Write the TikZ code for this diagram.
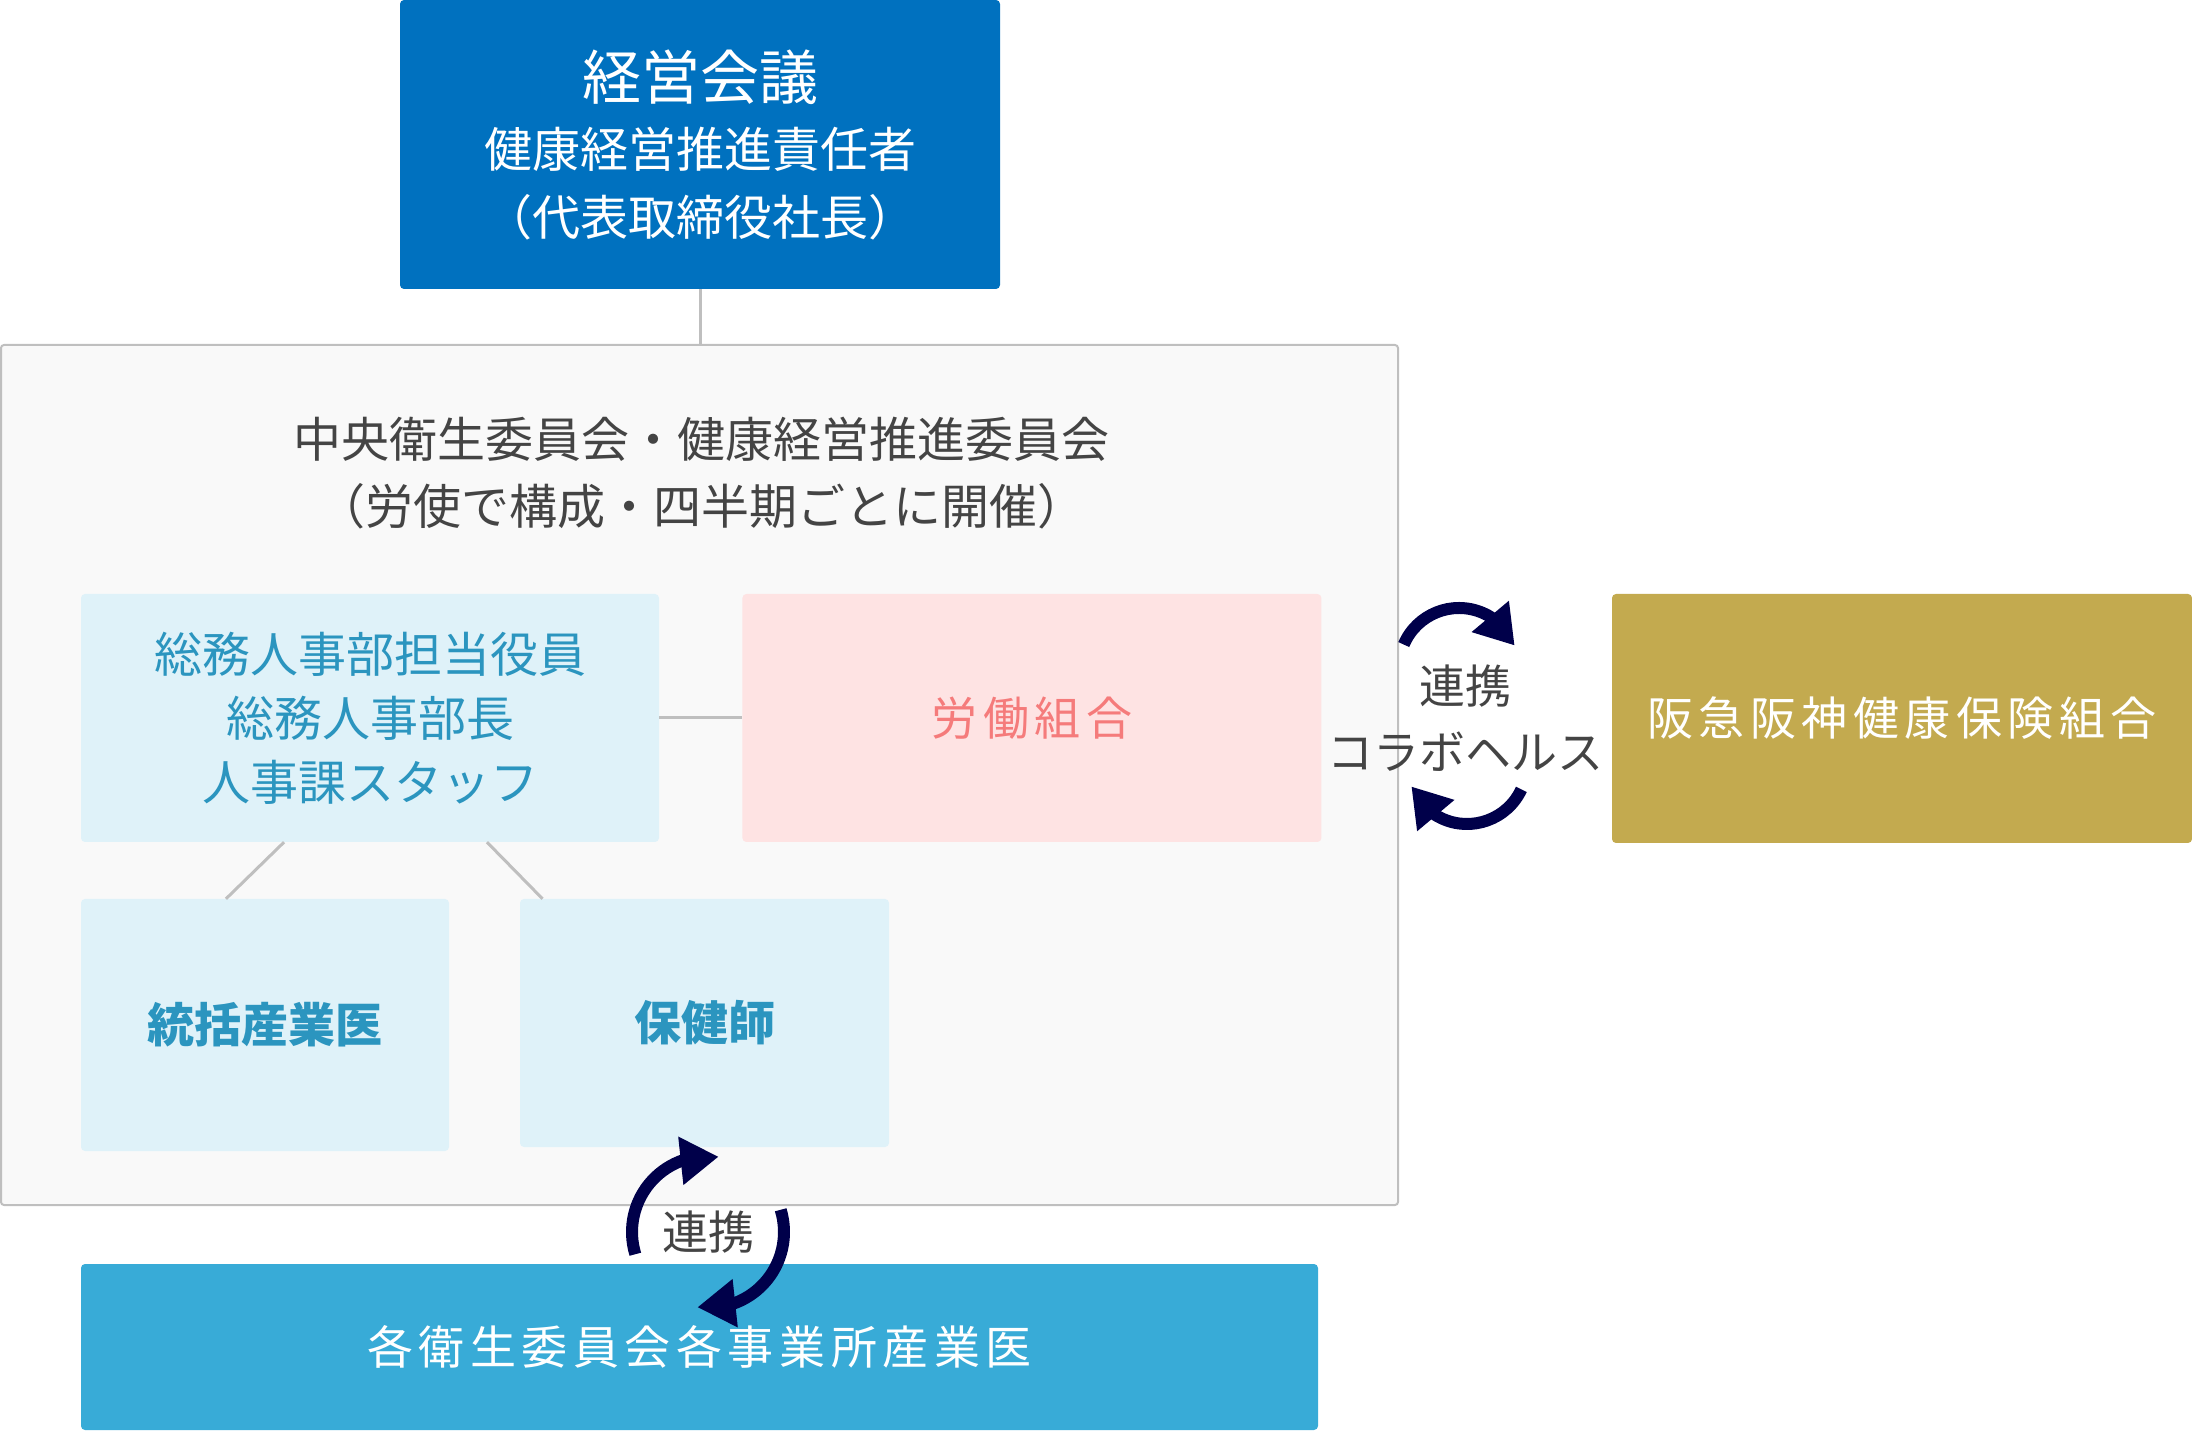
\documentclass[tikz,border=0pt]{standalone}
\usepackage{fontspec}
\setmainfont{Noto Sans CJK JP}
\newfontfamily\jpwide[LetterSpace=12]{Noto Sans CJK JP}
\usetikzlibrary{arrows.meta, bending, positioning, calc}
\definecolor{hqBlue}{HTML}{0071BF}
\definecolor{siteBlue}{HTML}{38ABD7}
\definecolor{kenpoGold}{HTML}{C3AA4F}
\definecolor{paleBlue}{HTML}{DFF2F9}
\definecolor{palePink}{HTML}{FEE3E3}
\definecolor{unionRed}{HTML}{F57B7B}
\definecolor{staffBlue}{HTML}{2B95BF}
\definecolor{cycleNavy}{HTML}{00004A}
\definecolor{lineGray}{HTML}{BFBFBF}
\definecolor{textGray}{HTML}{444444}

\begin{document}
\begin{tikzpicture}[x=1pt, y=1pt,
    orgbox/.style={rectangle, rounded corners=4pt, inner sep=0pt, align=center},
    solidbox/.style={orgbox, text=white},
    staffbox/.style={orgbox, fill=paleBlue, text=staffBlue,
                     font=\fontsize{48}{64}\selectfont},
    link/.style={draw=lineGray, line width=3pt},
    cyclearrow/.style={draw=cycleNavy, line width=12pt,
                       -{Triangle[width=46pt, length=38pt, flex]}},
  ]
    \useasboundingbox (0,0) rectangle (2192,1433);

    % committee frame
    \node[orgbox, rounded corners=3pt, draw=lineGray, line width=2pt, fill=black!2.5,
          minimum width=1397pt, minimum height=860pt] (iinkai) at (699.5,658) {};
    \node[align=center, text=textGray, font=\fontsize{48}{67}\selectfont]
          (iinkaiTitle) at (701,960)
          {中央衛生委員会・健康経営推進委員会\\（労使で構成・四半期ごとに開催）};

    % management
    \node[solidbox, fill=hqBlue, minimum width=600pt, minimum height=289pt,
          font=\fontsize{48}{68}\selectfont] (keiei) at (700,1288.5)
          {{\fontsize{59}{70}\selectfont 経営会議}\\健康経営推進責任者\\（代表取締役社長）};

    % members
    \node[staffbox, minimum width=578pt, minimum height=248pt] (somu) at (370,715)
          {総務人事部担当役員\\総務人事部長\\人事課スタッフ};
    \node[orgbox, fill=palePink, text=unionRed, minimum width=579pt, minimum height=248pt,
          font=\jpwide\fontsize{46}{60}\selectfont, right=83pt of somu] (kumiai) {労働組合};
    \node[staffbox, minimum width=368pt, minimum height=252pt,
          font=\bfseries\fontsize{47}{60}\selectfont] (sangyoui) at (265,408) {統括産業医};
    \node[staffbox, minimum width=369pt, minimum height=248pt,
          font=\bfseries\fontsize{47}{60}\selectfont] (hokenshi) at (704.5,410) {保健師};

    % outside
    \node[solidbox, fill=siteBlue, minimum width=1237pt, minimum height=166pt,
          font=\jpwide\fontsize{46}{60}\selectfont] (jigyosho) at (699.5,86)
          {各衛生委員会各事業所産業医};
    \node[solidbox, fill=kenpoGold, minimum width=580pt, minimum height=249pt,
          font=\jpwide\fontsize{46}{60}\selectfont] (kenpo) at (1902,714.5)
          {阪急阪神健康保険組合};

    % connectors
    \draw[link] (keiei.south) -- (keiei.south |- iinkai.north);
    \draw[link] (somu.east) -- (kumiai.west);
    \draw[link] ([xshift=-86pt]somu.south) -- ([xshift=-39pt]sangyoui.north);
    \draw[link] ([xshift=117pt]somu.south) -- ([xshift=-162pt]hokenshi.north);

    % collaboration labels and cycles
    \node[align=center, text=textGray, font=\fontsize{46}{66}\selectfont]
          (renkeiR) at (1465,715) {連携\\コラボヘルス};
    \node[text=textGray, font=\fontsize{46}{60}\selectfont]
          (renkeiB) at (708,201) {連携};

    \coordinate (cycR1) at ($(renkeiR)+(-6,50)$);
    \coordinate (cycR2) at ($(renkeiR)+(2,-46)$);
    \draw[cyclearrow] ($(cycR1)+(157:60)$) arc[start angle=157, end angle=22, radius=60];
    \draw[cyclearrow] ($(cycR2)+(-25:60)$) arc[start angle=-25, end angle=-158, radius=60];

    \draw[cyclearrow] ($(renkeiB)+(197:76)$) arc[start angle=197, end angle=82, radius=76];
    \draw[cyclearrow] ($(renkeiB)+(17:76)$) arc[start angle=17, end angle=-98, radius=76];
  \end{tikzpicture}
\end{document}
